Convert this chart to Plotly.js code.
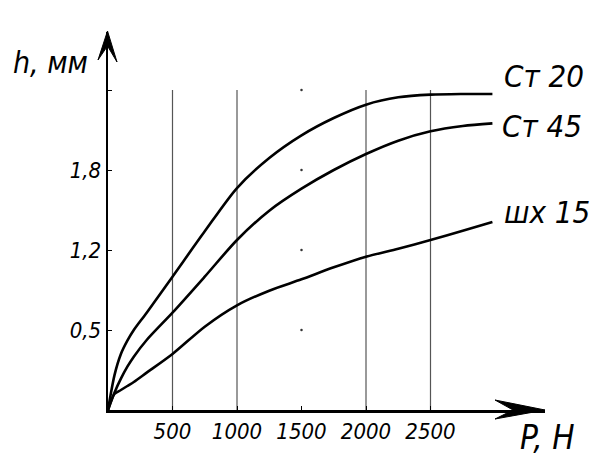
<!DOCTYPE html>
<html>
<head>
<meta charset="utf-8">
<script src="https://cdn.plot.ly/plotly-3.0.1.min.js"></script>
<style>
  html, body { margin: 0; padding: 0; background: #fff; }
  #chart { width: 597px; height: 457px; }
</style>
</head>
<body>
<div id="chart"></div>
<script>
// Load P (N) and indentation depth h (mm) for three steels
const loadP = [0, 50, 100, 150, 200, 300, 500, 750, 1000, 1250, 1500, 1750, 2000, 2250, 2500, 2750, 2980];
const st20  = [0, 0.26, 0.42, 0.52, 0.60, 0.73, 1.00, 1.34, 1.665, 1.89, 2.06, 2.19, 2.29, 2.345, 2.365, 2.37, 2.37];
const st45  = [0, 0.13, 0.235, 0.325, 0.40, 0.525, 0.73, 1.00, 1.275, 1.495, 1.66, 1.80, 1.92, 2.02, 2.09, 2.13, 2.15];
const shx15 = [0, 0.12, 0.15, 0.18, 0.21, 0.28, 0.42, 0.625, 0.785, 0.895, 0.98, 1.07, 1.15, 1.21, 1.275, 1.345, 1.41];
const seriesNames = ["Ст 20", "Ст 45", "шх 15"];

// Axis ticks and labels
const xTickVals = [500, 1000, 1500, 2000, 2500];
const xTickText = ["500", "1000", "1500", "2000", "2500"];
const yTickVals = [0.6, 1.2, 1.8, 2.4];
const yTickText = ["0,5", "1,2", "1,8", ""];
const gridP = [500, 1000, 2000, 2500];
const gridTop = 2.4;
const markP = 1500;

const W = 597, H = 457;
const M = { l: 108, r: 52, t: 32, b: 47 };
const pw = W - M.l - M.r, ph = H - M.t - M.b;
const fx = p => (p - M.l) / pw;          // pixel x -> paper
const fy = p => (H - M.b - p) / ph;      // pixel y -> paper

const FONT = "DejaVu Sans Condensed, sans-serif";
const ink = "#000";

const series = [st20, st45, shx15];
const labelShift = [[10, 18], [8, -3], [10, 10]];

const traces = series.map((ys, i) => ({
  x: loadP, y: ys, type: "scatter", mode: "lines",
  line: { color: ink, width: 2.6, shape: "spline", smoothing: 0.8 },
  name: seriesNames[i], hoverinfo: "skip"
}));
traces.push({
  x: yTickVals.map(() => markP), y: yTickVals, type: "scatter", mode: "markers",
  marker: { color: "#333", size: 2.5 }, hoverinfo: "skip"
});

const shapes = gridP.map(g => ({
  type: "line", xref: "x", yref: "y", x0: g, x1: g, y0: 0, y1: gridTop,
  line: { color: "#555", width: 1.2 }, layer: "below"
}));
// Arrow heads on both axes
const pt = (a, b) => fx(a) + "," + fy(b);
shapes.push({
  type: "path", xref: "paper", yref: "paper",
  path: "M" + pt(545, 410) + " L" + pt(495, 400) + " L" + pt(513, 410) + " L" + pt(495, 419) + " Z",
  fillcolor: ink, line: { color: ink, width: 1 }
});
shapes.push({
  type: "path", xref: "paper", yref: "paper",
  path: "M" + pt(107.5, 31) + " L" + pt(98, 60) + " L" + pt(107.5, 46) + " L" + pt(117, 62) + " Z",
  fillcolor: ink, line: { color: ink, width: 1 }
});

const annotations = series.map((ys, i) => ({
  x: loadP[loadP.length - 1], y: ys[ys.length - 1], xref: "x", yref: "y",
  text: seriesNames[i], showarrow: false, xanchor: "left", yanchor: "middle",
  xshift: labelShift[i][0], yshift: labelShift[i][1],
  font: { family: FONT, size: 31, color: ink, style: "italic" }
}));
annotations.push({
  x: fx(50), y: fy(62), xref: "paper", yref: "paper", text: "h, мм",
  showarrow: false, xanchor: "center", yanchor: "middle",
  font: { family: FONT, size: 30, color: ink, style: "italic" }
});
annotations.push({
  x: fx(547), y: fy(438), xref: "paper", yref: "paper", text: "P, Н",
  showarrow: false, xanchor: "center", yanchor: "middle",
  font: { family: FONT, size: 33, color: ink, style: "italic" }
});

const tickFont = { family: FONT, size: 22, color: ink, style: "italic" };

const layout = {
  width: W, height: H, margin: M,
  paper_bgcolor: "#fff", plot_bgcolor: "#fff",
  showlegend: false,
  xaxis: {
    range: [0, pw / 0.129], showgrid: false, zeroline: false,
    showline: true, linecolor: ink, linewidth: 2.5,
    tickmode: "array", tickvals: xTickVals, ticktext: xTickText,
    ticks: "inside", ticklen: 4, tickwidth: 1, tickcolor: ink,
    tickfont: tickFont, fixedrange: true
  },
  yaxis: {
    range: [0, ph / 133.33], showgrid: false, zeroline: false,
    showline: true, linecolor: ink, linewidth: 2.5,
    tickmode: "array", tickvals: yTickVals, ticktext: yTickText,
    ticks: "inside", ticklen: 4, tickwidth: 1, tickcolor: ink,
    tickfont: tickFont, fixedrange: true
  },
  shapes: shapes,
  annotations: annotations
};

Plotly.newPlot("chart", traces, layout, { staticPlot: true, displayModeBar: false });
</script>
</body>
</html>
